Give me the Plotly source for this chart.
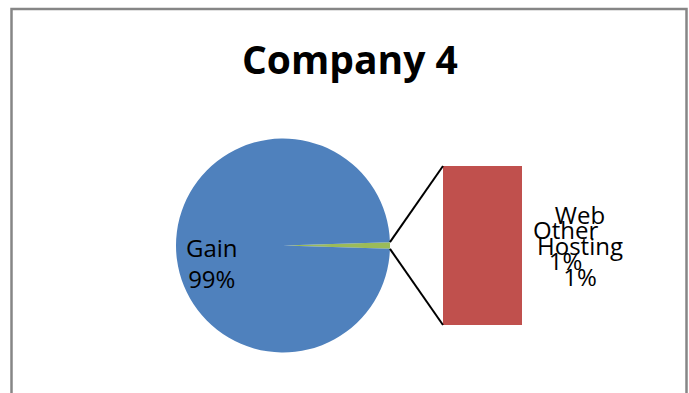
import math
import plotly.graph_objects as go

# Company 4 revenue split
pie_labels = ["Other", "Gain"]
gain_value = 99
secondary_labels = ["Web Hosting"]
secondary_values = [1]

other_value = sum(secondary_values)
pie_values = [other_value, gain_value]
total = sum(pie_values)

W, H = 689, 393
BLUE, GREEN, RED = "#4F81BD", "#9BBB59", "#C0504D"
FONT = "Open Sans"

# pie geometry (pixels)
cx, cy, r = 283, 245.5, 107
# secondary bar box (pixels)
bx0, bx1, by0, by1 = 443, 522, 166, 325


def px(x):
    return x / W


def py(y):
    return (H - y) / H


half_angle = 180.0 * other_value / total

fig = go.Figure()

fig.add_trace(go.Pie(
    labels=pie_labels,
    values=pie_values,
    sort=False,
    direction="clockwise",
    rotation=90 - half_angle,
    marker=dict(colors=[GREEN, BLUE], line=dict(width=0)),
    textinfo="none",
    hoverinfo="label+percent",
    showlegend=False,
    domain=dict(x=[px(cx - r), px(cx + r)], y=[py(cy + r), py(cy - r)]),
))

# stacked secondary bar
for lab, val, col in zip(secondary_labels, secondary_values, [RED]):
    fig.add_trace(go.Bar(
        x=[0], y=[val], name=lab, marker=dict(color=col, line=dict(width=0)),
        showlegend=False, xaxis="x", yaxis="y",
    ))

fig.update_layout(
    width=W, height=H,
    margin=dict(l=0, r=0, t=0, b=0),
    paper_bgcolor="white",
    plot_bgcolor="rgba(0,0,0,0)",
    barmode="stack",
    bargap=0,
    xaxis=dict(domain=[px(bx0), px(bx1)], range=[-0.5, 0.5], visible=False, fixedrange=True),
    yaxis=dict(domain=[py(by1), py(by0)], range=[0, other_value], visible=False, fixedrange=True),
    font=dict(family=FONT, color="black"),
)

# connector lines from the Other slice to the bar
a = math.radians(half_angle)
edge_top = (cx + r * math.cos(a), cy - r * math.sin(a))
edge_bot = (cx + r * math.cos(a), cy + r * math.sin(a))
for (ex, ey), (tx, ty) in [(edge_top, (bx0, by0)), (edge_bot, (bx0, by1))]:
    fig.add_shape(type="line", xref="paper", yref="paper",
                  x0=px(ex), y0=py(ey), x1=px(tx), y1=py(ty),
                  line=dict(color="black", width=2))

# chart area border
fig.add_shape(type="rect", xref="paper", yref="paper",
              x0=px(11.5), y0=py(420), x1=px(686.5), y1=py(9),
              line=dict(color="#868686", width=2.5), layer="below")

# title
fig.add_annotation(text="<b>Company 4</b>", xref="paper", yref="paper",
                   x=px(350), y=py(59), xanchor="center", yanchor="middle",
                   showarrow=False, font=dict(family=FONT, size=39, color="black"))


def pct(v):
    return f"{round(100 * v / total)}%"


label_font = dict(family=FONT, size=24, color="black")
# data labels
fig.add_annotation(text=f"{pie_labels[1]}<br>{pct(gain_value)}", xref="paper", yref="paper",
                   x=px(212), y=py(263), xanchor="center", yanchor="middle",
                   showarrow=False, font=label_font)
fig.add_annotation(text=f"{pie_labels[0]}<br>{pct(other_value)}", xref="paper", yref="paper",
                   x=px(565), y=py(245), xanchor="center", yanchor="middle",
                   showarrow=False, font=label_font)
fig.add_annotation(text="<br>".join(secondary_labels[0].split(" ")) + f"<br>{pct(secondary_values[0])}",
                   xref="paper", yref="paper",
                   x=px(580), y=py(246), xanchor="center", yanchor="middle",
                   showarrow=False, font=label_font)

fig.write_html("out.html")
